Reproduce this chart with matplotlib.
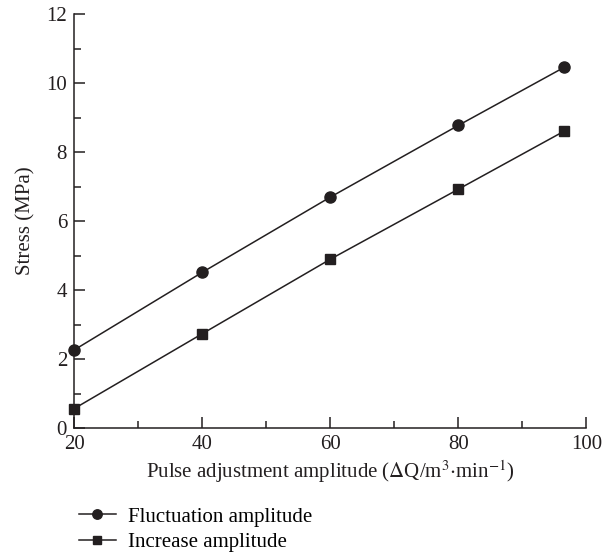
import matplotlib.pyplot as plt
from matplotlib.ticker import MultipleLocator

plt.rcParams['font.family'] = ['Liberation Serif', 'DejaVu Serif']
plt.rcParams['mathtext.fontset'] = 'stix'

# dane
x_vals = [20, 40, 60, 80, 96.5]
fluctuation = [2.26, 4.51, 6.69, 8.77, 10.45]
increase = [0.56, 2.73, 4.89, 6.92, 8.6]

fig = plt.figure(figsize=(6.12, 5.54), dpi=100)
ax = fig.add_axes([0.121, 0.2274, 0.837, 0.7473])

ax.plot(x_vals, fluctuation, color="#231f20", lw=1.1, marker="o", ms=8,
        label="Fluctuation amplitude", clip_on=False, zorder=3)
ax.plot(x_vals, increase, color="#231f20", lw=1.1, marker="s", ms=7,
        label="Increase amplitude", clip_on=False, zorder=3)

ax.set_xlim(20, 100)
ax.set_ylim(0, 12)
ax.xaxis.set_major_locator(MultipleLocator(20))
ax.xaxis.set_minor_locator(MultipleLocator(10))
ax.yaxis.set_major_locator(MultipleLocator(2))
ax.yaxis.set_minor_locator(MultipleLocator(1))

for s in ["top", "right"]:
    ax.spines[s].set_visible(False)
for s in ["left", "bottom"]:
    ax.spines[s].set_linewidth(1.1)
    ax.spines[s].set_color("#231f20")

ax.tick_params(which="major", direction="in", length=8, width=1.1, labelsize=15,
               colors="#231f20", pad=5)
ax.tick_params(which="minor", direction="in", length=5, width=1.1, colors="#231f20")

ax.set_xlabel("Pulse adjustment amplitude ($\\Delta$Q/m$^3$$\\cdot$min$^{-1}$)",
              fontsize=15, color="#231f20", labelpad=3)
ax.set_ylabel("Stress (MPa)", fontsize=15, color="#231f20", labelpad=8)

leg = fig.legend(loc="upper left", bbox_to_anchor=(0.115, 0.1), frameon=False, fontsize=15,
                 handlelength=1.8, handletextpad=0.55, labelspacing=0.3, borderaxespad=0,
                 markerscale=0.85)

fig.savefig("out.png", dpi=100)
